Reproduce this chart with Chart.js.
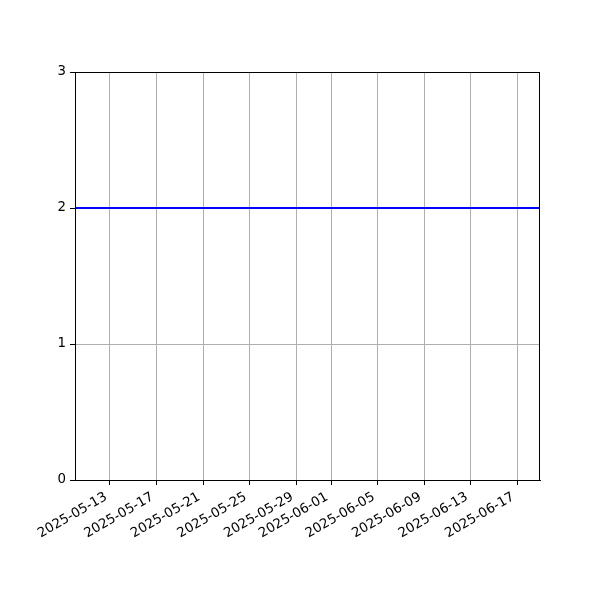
<!DOCTYPE html>
<html>
<head>
<meta charset="utf-8">
<script src="https://cdn.jsdelivr.net/npm/chart.js@4"></script>
<style>
  html, body { margin: 0; padding: 0; background: #fff; }
  #wrap { width: 600px; height: 600px; }
</style>
</head>
<body>
<div id="wrap"><canvas id="chart" width="600" height="600"></canvas></div>
<script>
// data
const dates = ['2025-05-10', '2025-06-19'];
const values = [2, 2];
const xTickLabels = ['2025-05-13', '2025-05-17', '2025-05-21', '2025-05-25', '2025-05-29',
  '2025-06-01', '2025-06-05', '2025-06-09', '2025-06-13', '2025-06-17'];
const yTickLabels = [0, 1, 2, 3];

const DAY = 86400000;
const toDay = s => Date.parse(s + 'T00:00:00Z') / DAY;
const fmtDay = d => new Date(Math.round(d) * DAY).toISOString().slice(0, 10);

const font = { family: 'DejaVu Sans', size: 13.33 };

// box around the plot area, like matplotlib spines
const frame = {
  id: 'frame',
  afterDraw(chart) {
    const { ctx, chartArea: a } = chart;
    ctx.save();
    ctx.strokeStyle = '#000';
    ctx.lineWidth = 1;
    ctx.strokeRect(a.left + 0.5, a.top + 0.5, a.right - a.left - 1, a.bottom - a.top);
    ctx.restore();
  }
};

// rotated date labels, right edge of the rotated box on the tick (ha='right')
const dateLabels = {
  id: 'dateLabels',
  afterDraw(chart) {
    const { ctx } = chart;
    const xs = chart.scales.x;
    const h = 15.5, ang = Math.PI / 6;
    ctx.save();
    ctx.fillStyle = '#000';
    ctx.font = font.size + 'px "' + font.family + '"';
    ctx.textAlign = 'right';
    ctx.textBaseline = 'middle';
    xs.ticks.forEach(t => {
      const px = xs.getPixelForValue(t.value);
      const rx = px - h / 2 * Math.sin(ang);
      const ry = xs.top + 9.4 + h / 2 * Math.cos(ang);
      ctx.save();
      ctx.translate(rx, ry);
      ctx.rotate(-ang);
      ctx.fillText(fmtDay(t.value), 0, 0);
      ctx.restore();
    });
    ctx.restore();
  }
};

new Chart(document.getElementById('chart'), {
  type: 'line',
  data: {
    datasets: [{
      data: dates.map((d, i) => ({ x: toDay(d), y: values[i] })),
      borderColor: '#0000ff',
      borderWidth: 2,
      pointRadius: 0,
      fill: false
    }]
  },
  options: {
    responsive: false,
    animation: false,
    layout: { padding: { top: 72, right: 60, left: 0, bottom: 0 } },
    plugins: { legend: { display: false }, tooltip: { enabled: false } },
    scales: {
      x: {
        type: 'linear',
        min: toDay('2025-05-10'),
        max: toDay('2025-06-19') - 0.05,
        afterBuildTicks: axis => { axis.ticks = xTickLabels.map(s => ({ value: toDay(s) })); },
        afterFit: axis => { axis.height = 120; },
        ticks: { display: false },
        grid: { color: '#b0b0b0', lineWidth: 1, tickLength: 5, tickColor: '#000' },
        border: { color: '#000', width: 1 }
      },
      y: {
        min: 0, max: 3,
        afterBuildTicks: axis => { axis.ticks = yTickLabels.map(v => ({ value: v })); },
        afterFit: axis => { axis.width = 75; },
        ticks: { color: '#000', font, padding: 4 },
        grid: { color: '#b0b0b0', lineWidth: 1, tickLength: 5, tickColor: '#000' },
        border: { color: '#000', width: 1 }
      }
    }
  },
  plugins: [frame, dateLabels]
});
</script>
</body>
</html>
